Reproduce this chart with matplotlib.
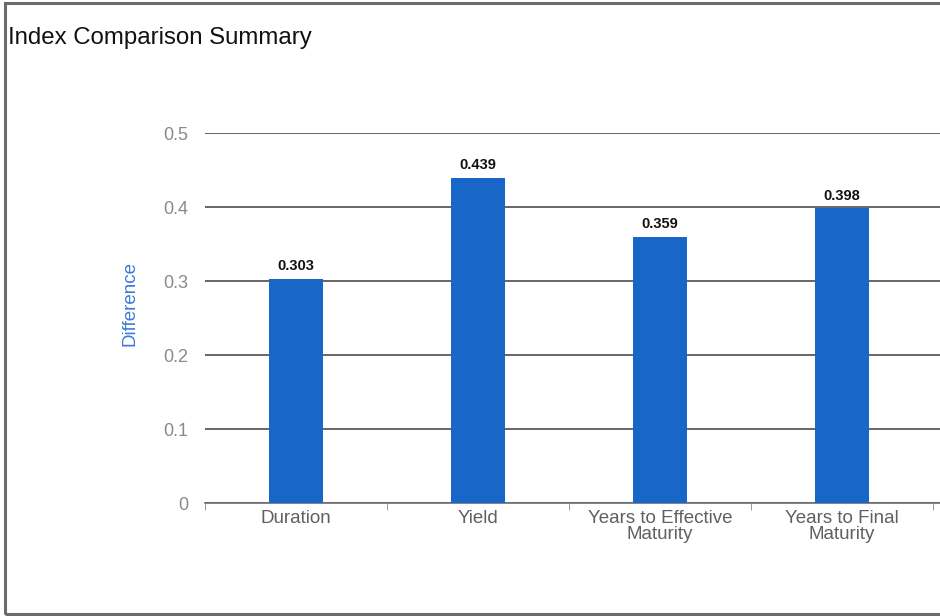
import numpy as np
import matplotlib.pyplot as plt
from matplotlib.patches import Rectangle

plt.rcParams['font.family'] = ['Liberation Sans', 'DejaVu Sans']

categories = ['Duration', 'Yield', 'Years to Effective\nMaturity', 'Years to Final\nMaturity']
values = [0.303, 0.439, 0.359, 0.398]
yticks = [0, 0.1, 0.2, 0.3, 0.4, 0.5]
ytick_labels = ['0', '0.1', '0.2', '0.3', '0.4', '0.5']

fig = plt.figure(figsize=(9.4, 6.16), dpi=100)
W, H = 940, 616

# outer frame
fig.patches.append(Rectangle((5 / W, 2 / H), 1.2, 1 - 5 / H, transform=fig.transFigure,
                             fill=False, edgecolor='#6b6b6b', linewidth=2.2))

fig.text(8 / W, 1 - 38 / H, 'Index Comparison Summary', fontsize=17.3, color='#111111',
         ha='left', va='center')

ax = fig.add_axes([205 / W, 1 - 503 / H, 1 - 205 / W, (503 - 133) / H])
x = np.arange(len(categories))
ax.bar(x, values, width=0.3, color='#1866c8', zorder=3)

ax.set_xlim(-0.5, 3.5 + 7 / 182)
ax.set_ylim(0, 0.5)
ax.set_yticks(yticks)
ax.set_yticklabels(ytick_labels)
ax.grid(axis='y', color='#3d3d3d', linewidth=1.1, zorder=1)
ax.set_xticks(x)
ax.set_xticklabels(categories, linespacing=0.92)
ax.set_xticks(np.arange(-0.5, len(categories)), minor=True)
ax.tick_params(axis='x', which='major', length=0, pad=5, labelsize=13.5, labelcolor='#606060')
ax.tick_params(axis='x', which='minor', length=5, color='#888888', direction='out')
ax.tick_params(axis='y', length=0, pad=12, labelsize=13, labelcolor='#8a8a8a')

for s in ['top', 'right', 'left']:
    ax.spines[s].set_visible(False)
ax.spines['bottom'].set_color('#6e6e6e')
ax.spines['bottom'].set_linewidth(1.2)

for xi, v in zip(x, values):
    ax.text(xi, v + 0.008, f'{v:.3f}', ha='center', va='bottom', fontsize=10.5,
            fontweight='bold', color='#111111')

fig.text(130 / W, 1 - 304 / H, 'Difference', rotation=90, fontsize=13.5, color='#3a7bd5',
         ha='center', va='center')

fig.savefig('out.png', dpi=100)
